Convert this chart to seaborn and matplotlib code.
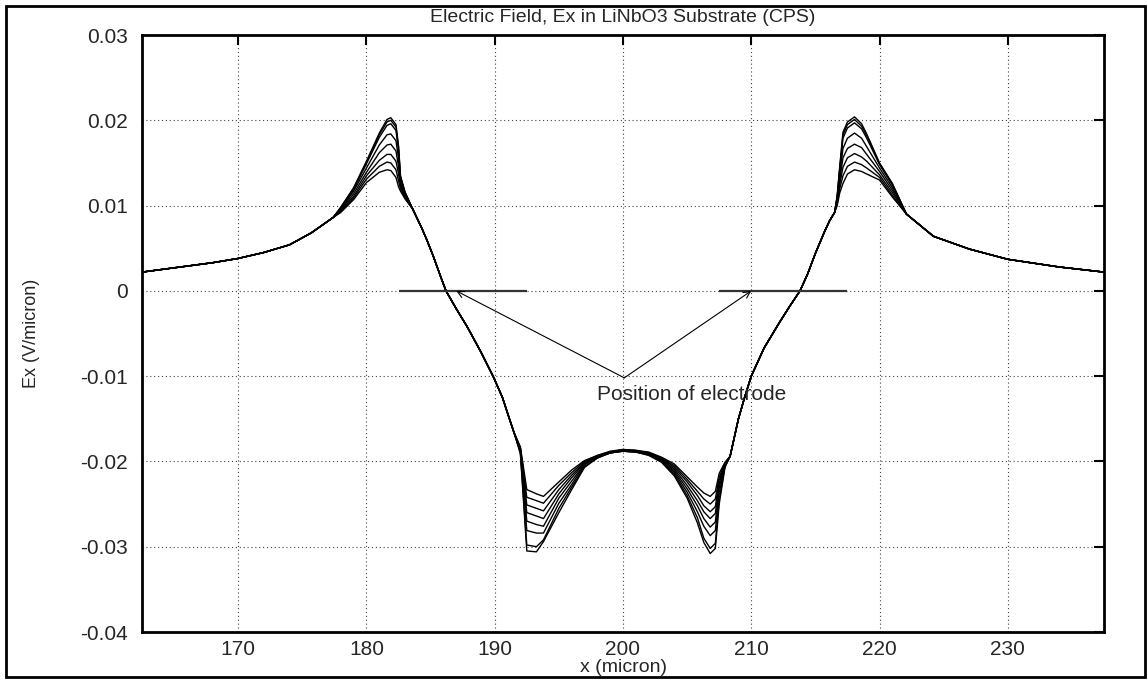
import numpy as np
import pandas as pd
import matplotlib
matplotlib.use("Agg")
import matplotlib.pyplot as plt
from matplotlib.patches import Rectangle
import seaborn as sns

# ---------------- data ----------------
curve_names = ["c1", "c2", "c3", "c4", "c5", "c6", "c7", "c8"]

# shared left tail
x_left_tail = [162.5, 164.0, 166.0, 168.0, 170.0, 172.0, 174.0, 175.7, 177.4]
y_left_tail = [0.0022, 0.0025, 0.0029, 0.0033, 0.0038, 0.0045, 0.0054, 0.0068, 0.0086]

# left peak, per curve
x_left_peak = [178.0, 179.0, 180.0, 181.0, 181.6, 181.9, 182.3, 182.5, 182.65, 183.0]
y_left_peak = [
    [.0092, .0107, .0127, .0139, .0142, .0141, .0133, .0122, .0117, .0108],
    [.0093, .0109, .0131, .0146, .0151, .0150, .0142, .0129, .0120, .0109],
    [.0094, .0111, .0135, .0153, .0160, .0160, .0152, .0137, .0123, .0110],
    [.0095, .0114, .0139, .0162, .0171, .0172, .0164, .0146, .0126, .0112],
    [.0096, .0117, .0144, .0171, .0183, .0184, .0176, .0155, .0129, .0114],
    [.0097, .0119, .0149, .0180, .0194, .0196, .0188, .0164, .0133, .0115],
    [.0098, .0120, .0151, .0183, .0198, .0200, .0192, .0168, .0134, .0116],
    [.0098, .0121, .0152, .0185, .0201, .0203, .0195, .0170, .0135, .0116],
]

# shared left descent
x_left_desc = [183.6, 184.3, 184.7, 185.2, 185.8, 186.2, 187.0, 187.85, 188.9, 189.9, 190.6, 191.1, 191.5]
y_left_desc = [.0096, .0074, .0060, .0041, .0016, 0.0, -.0021, -.0042, -.0071, -.0101, -.0125, -.0148, -.0166]

# left dip, per curve
x_left_dip = [192.0, 192.5, 193.25, 193.8, 195.0, 196.0, 197.0, 198.0, 199.0, 200.0]
y_left_dip = [
    [-.0183, -.0233, -.0238, -.0241, -.0224, -.0210, -.0199, -.0193, -.0188, -.0186],
    [-.0184, -.0242, -.0246, -.0249, -.0228, -.0213, -.0200, -.0193, -.0189, -.0186],
    [-.0185, -.0251, -.0255, -.0258, -.0233, -.0216, -.0201, -.0194, -.0189, -.0187],
    [-.0186, -.0260, -.0264, -.0267, -.0238, -.0219, -.0202, -.0194, -.0189, -.0187],
    [-.0187, -.0270, -.0274, -.0276, -.0243, -.0223, -.0203, -.0195, -.0190, -.0187],
    [-.0188, -.0281, -.0284, -.0284, -.0249, -.0227, -.0204, -.0195, -.0190, -.0188],
    [-.0190, -.0298, -.0300, -.0292, -.0255, -.0230, -.0206, -.0196, -.0190, -.0188],
    [-.0191, -.0305, -.0306, -.0294, -.0260, -.0233, -.0207, -.0196, -.0190, -.0188],
]

# right dip, per curve
x_right_dip = [201.0, 202.0, 203.0, 204.0, 205.0, 205.8, 206.3, 206.8, 207.2, 207.5, 207.95]
y_right_dip = [
    [-.0187, -.0189, -.0195, -.0203, -.0218, -.0230, -.0237, -.0241, -.0235, -.0214, -.0201],
    [-.0187, -.0190, -.0196, -.0205, -.0221, -.0235, -.0244, -.0250, -.0244, -.0218, -.0202],
    [-.0188, -.0190, -.0196, -.0207, -.0224, -.0240, -.0252, -.0259, -.0253, -.0222, -.0203],
    [-.0188, -.0191, -.0197, -.0209, -.0228, -.0246, -.0259, -.0267, -.0261, -.0226, -.0203],
    [-.0188, -.0191, -.0198, -.0211, -.0232, -.0252, -.0267, -.0277, -.0271, -.0231, -.0204],
    [-.0189, -.0192, -.0199, -.0213, -.0236, -.0259, -.0276, -.0287, -.0281, -.0237, -.0205],
    [-.0189, -.0192, -.0200, -.0215, -.0240, -.0266, -.0290, -.0302, -.0296, -.0245, -.0206],
    [-.0189, -.0193, -.0201, -.0217, -.0243, -.0272, -.0295, -.0308, -.0302, -.0250, -.0207],
]

# shared right rise
x_right_rise = [208.35, 209.0, 209.5, 210.0, 211.0, 212.2, 213.0, 213.8, 214.4, 215.0, 215.7, 216.1, 216.5]
y_right_rise = [-.0194, -.0150, -.0124, -.0100, -.0067, -.0037, -.0018, 0.0, .0020, .0044, .0069, .0082, .0092]

# right peak, per curve
x_right_peak = [216.7, 216.9, 217.15, 217.5, 218.05, 218.6, 219.0, 220.0, 221.0]
y_right_peak = [
    [.0100, .0115, .0126, .0137, .0142, .0140, .0137, .0130, .0110],
    [.0102, .0120, .0135, .0146, .0151, .0148, .0144, .0133, .0112],
    [.0104, .0125, .0145, .0156, .0161, .0157, .0152, .0136, .0115],
    [.0106, .0130, .0156, .0167, .0172, .0168, .0160, .0140, .0118],
    [.0108, .0136, .0167, .0179, .0185, .0179, .0169, .0144, .0121],
    [.0110, .0142, .0179, .0191, .0197, .0190, .0179, .0148, .0124],
    [.0111, .0144, .0183, .0195, .0201, .0193, .0182, .0149, .0125],
    [.0112, .0146, .0186, .0198, .0204, .0196, .0184, .0150, .0126],
]

# shared right tail
x_right_tail = [222.1, 224.2, 227.0, 230.0, 234.0, 237.5]
y_right_tail = [.0090, .0064, .0049, .0037, .0028, .0022]

# electrodes and annotation
electrode_left = [182.5, 192.5]
electrode_right = [207.5, 217.5]
arrow_tips_x = [187.0, 210.0]
arrow_origin = (200.1, -0.0102)
note_text = "Position of electrode"

x_ticks = [170, 180, 190, 200, 210, 220, 230]
y_ticks = [-0.04, -0.03, -0.02, -0.01, 0, 0.01, 0.02, 0.03]
y_tick_labels = ["-0.04", "-0.03", "-0.02", "-0.01", "0", "0.01", "0.02", "0.03"]

title_text = "Electric Field, Ex in LiNbO3 Substrate (CPS)"
x_label = "x (micron)"
y_label = "Ex (V/micron)"

# ---------------- build long table ----------------
rows = []
for i, name in enumerate(curve_names):
    xs = (x_left_tail + x_left_peak + x_left_desc + x_left_dip +
          x_right_dip + x_right_rise + x_right_peak + x_right_tail)
    ys = (y_left_tail + y_left_peak[i] + y_left_desc + y_left_dip[i] +
          y_right_dip[i] + y_right_rise + y_right_peak[i] + y_right_tail)
    for xv, yv in zip(xs, ys):
        rows.append({"x": xv, "Ex": yv, "curve": name})
df = pd.DataFrame(rows)

# ---------------- plot ----------------
sns.set_style("white")
plt.rcParams["font.family"] = ["Liberation Sans", "DejaVu Sans"]

fig = plt.figure(figsize=(11.48, 6.80), dpi=100)
ax = fig.add_axes([142 / 1148, 1 - 632 / 680, (1104 - 142) / 1148, (632 - 35) / 680])

sns.lineplot(data=df, x="x", y="Ex", hue="curve", palette=["black"] * len(curve_names),
             estimator=None, sort=True, legend=False, linewidth=1.0, ax=ax)

# electrodes
for seg in (electrode_left, electrode_right):
    ax.plot(seg, [0, 0], color="#333333", linewidth=1.6, solid_capstyle="butt", zorder=3)

# arrows
for tx in arrow_tips_x:
    ax.annotate("", xy=(tx, 0.0), xytext=arrow_origin,
                arrowprops=dict(arrowstyle="->", color="black", lw=0.8,
                                shrinkA=0, shrinkB=0, mutation_scale=12))
ax.text(198.0, -0.0121, note_text, fontsize=15, ha="left", va="center")

ax.set_xlim(162.5, 237.5)
ax.set_ylim(-0.04, 0.03)
ax.set_xticks(x_ticks)
ax.set_xticklabels([str(t) for t in x_ticks])
ax.set_yticks(y_ticks)
ax.set_yticklabels(y_tick_labels)
ax.set_xlabel("")
ax.set_ylabel("")
ax.grid(True, color="#444444", linestyle=(0, (1, 2.5)), linewidth=0.8)
ax.tick_params(axis="both", which="major", direction="in", length=7, width=1.5,
               top=True, right=True, labelsize=15, color="black")
ax.tick_params(axis="y", pad=10)
ax.tick_params(axis="x", pad=6)
for sp in ax.spines.values():
    sp.set_visible(True)
    sp.set_color("black")
    sp.set_linewidth(2.0)

fig.text(623 / 1148, 1 - 18 / 680, title_text, ha="center", va="center", fontsize=14)
fig.text(623 / 1148, 1 - 667 / 680, x_label, ha="center", va="center", fontsize=14)
fig.text(31 / 1148, 1 - 333 / 680, y_label, ha="center", va="center", rotation=90, fontsize=13)

fig.add_artist(Rectangle((6 / 1148, 3 / 680), 1139 / 1148, 671 / 680, transform=fig.transFigure,
                         fill=False, edgecolor="black", linewidth=2.0))

fig.savefig("out.png", dpi=100, facecolor="white")
